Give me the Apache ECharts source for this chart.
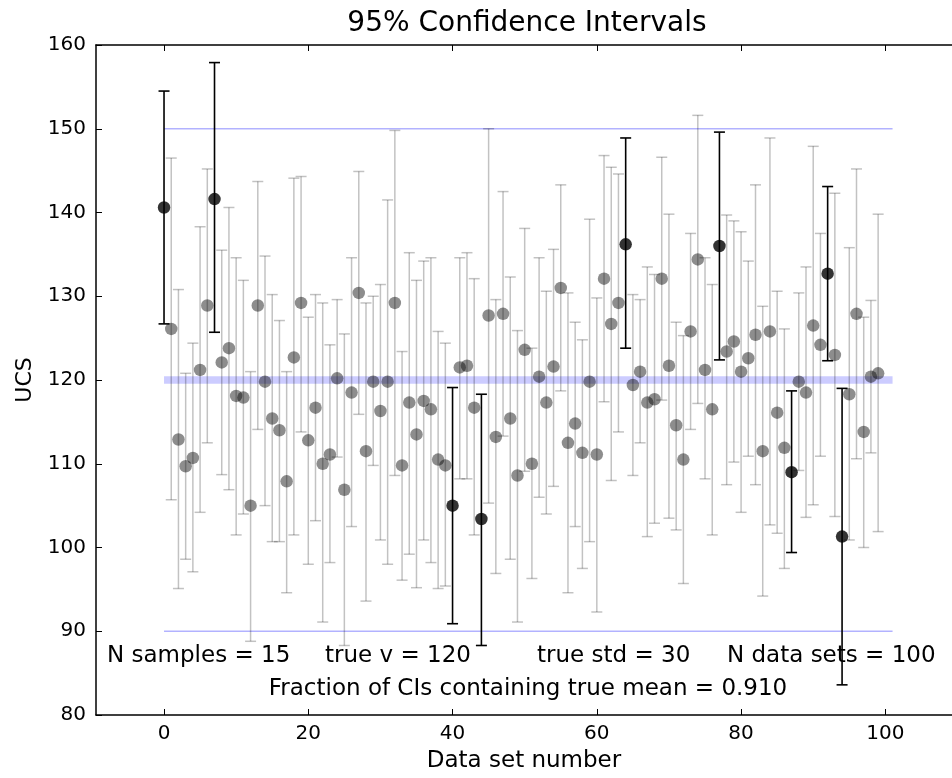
<!DOCTYPE html>
<html>
<head>
<meta charset="utf-8">
<script src="https://cdn.jsdelivr.net/npm/echarts@6/dist/echarts.min.js"></script>
<style>
html,body{margin:0;padding:0;background:#fff;}
#chart{width:952px;height:778px;}
</style>
</head>
<body>
<div id="chart"></div>
<script>
// ---- data ----
const titleText = '95% Confidence Intervals';
const xAxisName = 'Data set number';
const yAxisName = 'UCS';
const xTicks = [0, 20, 40, 60, 80, 100];
const yTicks = [80, 90, 100, 110, 120, 130, 140, 150, 160];
const trueMean = 120;
const spreadLines = [90, 150];
const hlineRange = [0, 101];
const infoTexts = ['N samples = 15', 'true v = 120', 'true std = 30', 'N data sets = 100'];
const fractionText = 'Fraction of CIs containing true mean = 0.910';

const means = [140.6,126.1,112.9,109.7,110.7,121.2,128.9,141.6,122.1,123.8,
118.1,117.9,105.0,128.9,119.8,115.4,114.0,107.9,122.7,129.2,
112.8,116.7,110.0,111.1,120.2,106.9,118.5,130.4,111.5,119.8,
116.3,119.8,129.2,109.8,117.3,113.5,117.5,116.5,110.5,109.8,
105.0,121.5,121.7,116.7,103.4,127.7,113.2,127.9,115.4,108.6,
123.6,110.0,120.4,117.3,121.6,131.0,112.5,114.8,111.3,119.8,
111.1,132.1,126.7,129.2,136.2,119.4,121.0,117.3,117.7,132.1,
121.7,114.6,110.5,125.8,134.4,121.2,116.5,136.0,123.4,124.6,
121.0,122.6,125.4,111.5,125.8,116.1,111.9,109.0,119.8,118.5,
126.5,124.2,132.7,123.0,101.3,118.3,127.9,113.8,120.4,120.8];

const lower = [126.7,105.7,95.1,98.6,97.1,104.2,112.5,125.7,108.7,106.9,
101.5,104.0,88.8,114.1,105.0,100.7,100.7,94.6,101.5,113.8,
98.0,103.2,91.1,98.2,110.8,88.3,102.5,115.9,93.6,109.8,
100.9,98.0,108.6,96.1,99.2,95.2,100.9,98.2,95.1,95.4,
90.9,108.2,108.2,101.5,88.3,105.3,96.9,113.3,98.6,91.1,
109.1,96.3,106.0,104.0,107.3,118.7,94.6,102.5,97.5,100.7,
92.3,117.4,108.0,113.8,123.8,108.6,112.5,101.3,102.9,117.6,
103.5,102.1,95.7,114.1,117.2,108.2,101.5,122.4,107.5,110.2,
104.2,110.9,107.5,94.2,102.7,101.7,97.5,99.4,109.2,103.6,
105.1,110.9,122.3,103.7,83.6,100.9,110.6,100.0,111.3,101.9];

const upper = [154.5,146.5,130.8,120.8,124.4,138.3,145.2,157.9,135.5,140.6,
134.6,131.9,121.0,143.7,134.8,130.2,127.1,121.0,144.1,144.3,
127.5,130.2,129.2,124.2,129.6,125.5,134.6,144.9,129.2,130.0,
131.4,141.5,149.8,123.4,135.2,131.9,134.2,134.6,125.8,124.4,
119.1,134.6,135.2,132.1,118.3,150.0,129.6,142.5,132.3,125.9,
138.1,123.8,134.6,130.6,135.6,143.3,130.4,126.9,124.8,139.2,
129.8,146.8,145.4,144.6,148.9,130.2,129.6,133.5,132.6,146.6,
139.8,126.9,125.3,137.5,151.6,134.6,131.4,149.6,139.7,139.0,
137.7,134.2,143.3,128.8,148.9,130.6,126.1,118.7,130.4,133.5,
147.9,137.5,143.1,142.3,119.0,135.8,145.2,127.5,129.5,139.8];

// ---- build series data ----
const hitBars = [], missBars = [], hitDots = [], missDots = [];
means.forEach((m, i) => {
  const miss = lower[i] > trueMean || upper[i] < trueMean;
  (miss ? missBars : hitBars).push([i, lower[i], upper[i]]);
  (miss ? missDots : hitDots).push([i, m]);
});

const FONT = 'DejaVu Sans';
const CAP = 5.5;

function barRenderer(color, width) {
  return function (params, api) {
    const x = api.value(0);
    const lo = api.coord([x, api.value(1)]);
    const hi = api.coord([x, api.value(2)]);
    const style = { stroke: color, lineWidth: width, fill: null };
    return {
      type: 'group',
      children: [
        { type: 'line', shape: { x1: lo[0], y1: lo[1], x2: hi[0], y2: hi[1] }, style },
        { type: 'line', shape: { x1: hi[0] - CAP, y1: hi[1], x2: hi[0] + CAP, y2: hi[1] }, style },
        { type: 'line', shape: { x1: lo[0] - CAP, y1: lo[1], x2: lo[0] + CAP, y2: lo[1] }, style }
      ]
    };
  };
}

const chart = echarts.init(document.getElementById('chart'), null, { renderer: 'canvas' });

const xMin = -9.43, xMax = 109.24;

const option = {
  backgroundColor: '#ffffff',
  animation: false,
  grid: { left: 96, right: 0, top: 45, bottom: 61, containLabel: false },
  xAxis: [
    {
      type: 'value', min: xMin, max: xMax, position: 'bottom',
      axisLine: { show: true, onZero: false, lineStyle: { color: '#000', width: 1.5 } },
      axisTick: { show: true, inside: true, length: 6, lineStyle: { color: '#000', width: 1 }, customValues: xTicks },
      axisLabel: { show: true, customValues: xTicks, color: '#000', fontFamily: FONT, fontSize: 20, margin: 9 },
      splitLine: { show: false },
      name: xAxisName, nameLocation: 'middle', nameGap: 35,
      nameTextStyle: { color: '#000', fontFamily: FONT, fontSize: 23 }
    },
    {
      type: 'value', min: xMin, max: xMax, position: 'top',
      axisLine: { show: true, onZero: false, lineStyle: { color: '#000', width: 1.5 } },
      axisTick: { show: true, inside: true, length: 6, lineStyle: { color: '#000', width: 1 }, customValues: xTicks },
      axisLabel: { show: false },
      splitLine: { show: false }
    }
  ],
  yAxis: {
    type: 'value', min: 80, max: 160, interval: 10,
    axisLine: { show: true, onZero: false, lineStyle: { color: '#000', width: 1.5 } },
    axisTick: { show: true, inside: true, length: 6, lineStyle: { color: '#000', width: 1 } },
    axisLabel: { color: '#000', fontFamily: FONT, fontSize: 20, margin: 10,
      formatter: v => yTicks.includes(v) ? String(v) : '' },
    splitLine: { show: false },
    name: yAxisName, nameLocation: 'middle', nameGap: 60, nameRotate: 90,
    nameTextStyle: { color: '#000', fontFamily: FONT, fontSize: 22 }
  },
  series: [
    {
      type: 'line', data: hlineRange.map(x => [x, trueMean]), symbol: 'none', z: 1,
      lineStyle: { color: 'rgba(0,0,255,0.2)', width: 7.5, cap: 'butt' }, silent: true
    },
    ...spreadLines.map(v => ({
      type: 'line', data: hlineRange.map(x => [x, v]), symbol: 'none', z: 1,
      lineStyle: { color: 'rgba(0,0,255,0.3)', width: 1.3, cap: 'butt' }, silent: true
    })),
    {
      type: 'custom', data: hitBars, renderItem: barRenderer('rgba(0,0,0,0.24)', 1.5),
      encode: { x: 0, y: [1, 2] }, z: 2, silent: true
    },
    {
      type: 'scatter', data: hitDots, symbol: 'circle', symbolSize: 12.5, z: 3,
      itemStyle: { color: 'rgba(0,0,0,0.56)' }, silent: true
    },
    {
      type: 'custom', data: missBars, renderItem: barRenderer('#000', 1.6),
      encode: { x: 0, y: [1, 2] }, z: 4, silent: true
    },
    {
      type: 'scatter', data: missDots, symbol: 'circle', symbolSize: 12.5, z: 5,
      itemStyle: { color: '#000' }, silent: true
    }
  ],
  graphic: [
    { type: 'text', x: 527, y: 24, z: 10,
      style: { text: titleText, fill: '#000', font: '28px "DejaVu Sans"', align: 'center', verticalAlign: 'middle' } },
    { type: 'text', x: 107, y: 656, z: 10,
      style: { text: infoTexts[0], fill: '#000', font: '23px "DejaVu Sans"', align: 'left', verticalAlign: 'middle' } },
    { type: 'text', x: 325, y: 656, z: 10,
      style: { text: infoTexts[1], fill: '#000', font: '23px "DejaVu Sans"', align: 'left', verticalAlign: 'middle' } },
    { type: 'text', x: 537, y: 656, z: 10,
      style: { text: infoTexts[2], fill: '#000', font: '23px "DejaVu Sans"', align: 'left', verticalAlign: 'middle' } },
    { type: 'text', x: 727, y: 656, z: 10,
      style: { text: infoTexts[3], fill: '#000', font: '23px "DejaVu Sans"', align: 'left', verticalAlign: 'middle' } },
    { type: 'text', x: 528, y: 689, z: 10,
      style: { text: fractionText, fill: '#000', font: '23px "DejaVu Sans"', align: 'center', verticalAlign: 'middle' } }
  ]
};

chart.setOption(option);
</script>
</body>
</html>
